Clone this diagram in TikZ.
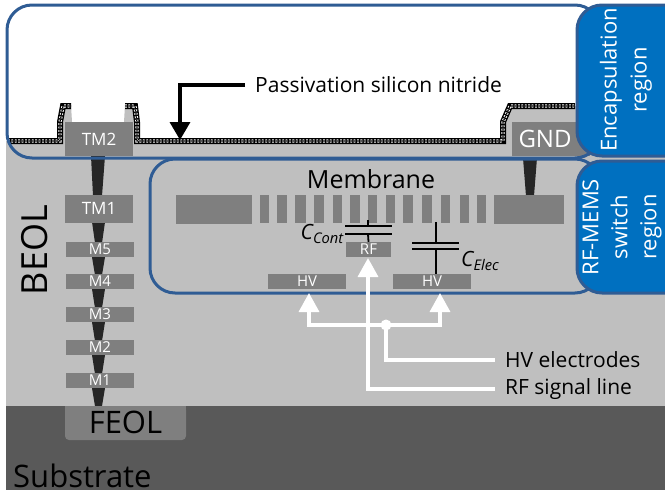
\documentclass[tikz,border=0pt]{standalone}
\usepackage{fontspec}
\setmainfont{Open Sans}
\usetikzlibrary{arrows.meta}
\definecolor{bgOxide}{HTML}{BFBFBF}
\definecolor{fillMetal}{HTML}{7F7F7F}
\definecolor{fillVia}{HTML}{262626}
\definecolor{fillSubstrate}{HTML}{595959}
\definecolor{lineRegion}{HTML}{2F5C94}
\definecolor{fillRegion}{HTML}{0070C0}
\newcommand{\fpx}[1]{\fontsize{#1pt}{#1pt}\selectfont}
\newcommand{\nitride}[1]{%
    \draw[black, line width=6pt] #1;
    \draw[draw=white, double=black, line width=1pt, double distance=1.2pt, dash pattern=on 1.8pt off 1.6pt] #1;
}

\begin{document}
\begin{tikzpicture}[
    x=1pt, y=-1pt,
    metal/.style={rectangle, fill=fillMetal, text=white, minimum width=68pt, minimum height=15pt,
                  inner sep=0pt, font=\fpx{15}},
    topmetal/.style={metal, minimum height=28pt, font=\fpx{17}},
    hole/.style={rectangle, fill=fillMetal, minimum height=29pt, inner sep=0pt},
    via/.style={fill=fillVia},
    region/.style={draw=lineRegion, line width=3pt, rounded corners=25pt},
    badge/.style={region, fill=fillRegion},
    badgetext/.style={rotate=90, text=white, align=center, font=\fpx{22}, inner sep=0pt},
    plate/.style={black, line width=1.8pt},
    wire/.style={white, line width=3.5pt},
    whitearrow/.style={wire, -{Triangle[length=19pt, width=20pt]}},
    label/.style={anchor=west, font=\fpx{21}, inner xsep=10pt, inner ysep=0pt},
]
    \useasboundingbox (0,0) rectangle (665,493);

    % Oxide and substrate
    \fill[bgOxide] (6,141) -- (60,141) -- (60,122) -- (63,105) -- (71,105) -- (72,122) -- (124,122)
        -- (125,105) -- (135,105) -- (138,125) -- (138,141) -- (503,141) -- (503,122) -- (510,106)
        -- (590,106) -- (590,141) -- (665,141) -- (665,406) -- (6,406) -- cycle;
    \fill[fillSubstrate] (6,406) rectangle (665,490);

    % Passivation
    \nitride{(8,141) -- (60,141) -- (60,122) -- (63,106) -- (71,106)}
    \nitride{(125,106) -- (135,106) -- (137,122) -- (137,141) -- (503,141) -- (503,122) -- (510,106) -- (575,106)}

    % Vias
    \fill[via] (91,156) -- (105,156) -- (102,196) -- (93,196) -- cycle;
    \foreach \ytop/\ybot in {222/243, 257/275, 289/308, 322/341, 355/374, 388/406} {
        \fill[via] (92,\ytop) -- (105,\ytop) -- (102,\ybot) -- (95,\ybot) -- cycle;
    }
    \fill[via] (523,158) -- (537,158) -- (534,196) -- (526,196) -- cycle;

    % Metal stack
    \node[topmetal, minimum height=34pt] (tm2) at (99,139) {TM2};
    \node[topmetal] (tm1) at (99,208.5) {TM1};
    \node[metal] (m5) at (100,249.5) {M5};
    \node[metal] (m4) at (100,281.5) {M4};
    \node[metal] (m3) at (100,314.5) {M3};
    \node[metal] (m2) at (100,347.5) {M2};
    \node[metal] (m1) at (100,380.5) {M1};
    \fill[fillMetal] (65,406) rectangle (186,412);
    \node[metal, rounded corners=4pt, minimum width=121pt, minimum height=34pt, text=black, font=\fpx{31}] (feol) at (125.5,423) {\raisebox{1.5pt}{FEOL}};
    \node[metal, minimum width=78pt, minimum height=34pt, text width=65pt, font=\fpx{24}, align=left] (gnd) at (551,139) {GND};

    % Regions
    \draw[region] (7,5) rectangle (600,158);
    \draw[region] (150,159) rectangle (600,293);
    \draw[badge] (577,5) rectangle (690,156);
    \draw[badge] (577,161) rectangle (690,293);
    \node[badgetext] (encap) at (626,80) {Encapsulation\\[8pt]region};
    \node[badgetext] (switch) at (622,227) {RF-MEMS\\[7pt]switch\\[7pt]region};

    % Membrane
    \node[hole, minimum width=76pt] (memleft) at (214,209) {};
    \foreach \xa/\xb in {260/269, 277/287, 295/306, 314/324, 333/342, 350/360, 368/377,
                         386/395, 403/413, 422/432, 441/450, 460/469, 477/486} {
        \fill[fillMetal] (\xa,195) rectangle (\xb,223);
    }
    \node[hole, minimum width=70pt] (memright) at (529,209) {};
    \node[font=\fpx{25}, inner sep=0pt] (membrane) at (371,179) {Membrane};

    % Electrodes
    \node[metal, minimum width=45pt] (rf) at (368.5,249.5) {RF};
    \node[metal, minimum width=78pt] (hvleft) at (307,281) {HV};
    \node[metal, minimum width=78pt] (hvright) at (432,281) {HV};

    % Capacitors
    \draw[plate] (368,220) -- (368,226) (368,234) -- (rf.north);
    \draw[plate] (345,226) -- (392,226) (345,234) -- (392,234);
    \draw[plate] (436,222) -- (436,243) (436,249) -- (436,274);
    \draw[plate] (412,243) -- (459,243) (412,249) -- (459,249);
    \node[anchor=east, inner sep=0pt, font=\fpx{21}\itshape] (ccont) at (344,234) {C\textsubscript{Cont}};
    \node[anchor=west, inner sep=0pt, font=\fpx{21}\itshape] (celec) at (461,261) {C\textsubscript{Elec}};

    % White connectors
    \node[circle, fill=white, minimum size=11pt, inner sep=0pt] (junction) at (386,325) {};
    \node[label] (hvlabel) at (495,360) {HV electrodes};
    \node[label] (rflabel) at (495,389) {RF signal line};
    \coordinate (hvlefttip) at (309,293);
    \coordinate (hvrighttip) at (440,293);
    \coordinate (rftip) at (368,258);
    \draw[whitearrow] (junction.center) -| (hvlefttip);
    \draw[whitearrow] (junction.center) -| (hvrighttip);
    \draw[wire] (junction.center) |- (hvlabel.west);
    \draw[whitearrow] (rflabel.west) -| (rftip);

    % Passivation label
    \node[label] (passlabel) at (245,85) {Passivation silicon nitride};
    \coordinate (passtip) at (180,140);
    \draw[black, line width=3.5pt, -{Triangle[length=18pt, width=20pt]}] (passlabel.west) -| (passtip);

    % Side labels
    \node[rotate=90, font=\fpx{36}, inner sep=0pt] (beol) at (35,250) {BEOL};
    \node[anchor=base west, font=\fpx{31}, inner sep=0pt] (substrate) at (13,487) {Substrate};
\end{tikzpicture}
\end{document}
